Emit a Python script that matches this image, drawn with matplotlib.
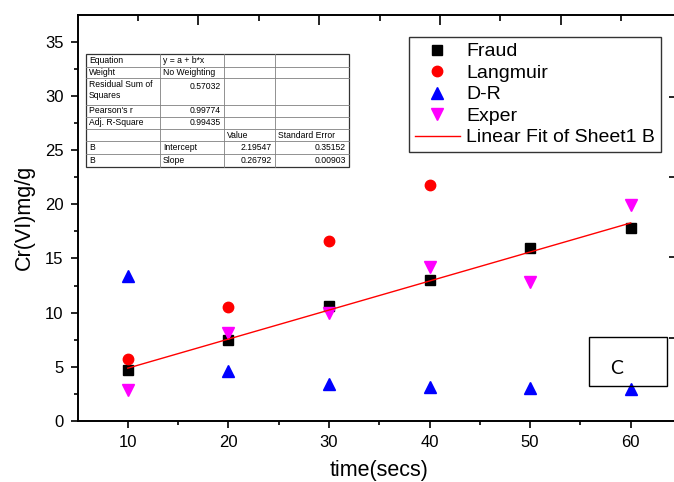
import matplotlib
matplotlib.use("Agg")
import matplotlib.pyplot as plt
from matplotlib.lines import Line2D
from matplotlib.patches import Rectangle
import numpy as np

plt.rcParams['font.family'] = ['Liberation Sans', 'DejaVu Sans']

# ---------------- data ----------------
time_fraud = [10, 20, 30, 40, 50, 60]
fraud = [4.7, 7.45, 10.6, 13.0, 16.0, 17.85]
time_lang = [10, 20, 30, 40]
langmuir = [5.7, 10.5, 16.6, 21.8]
time_dr = [10, 20, 30, 40, 50, 60]
dr = [13.4, 4.6, 3.4, 3.1, 3.0, 2.95]
time_exper = [10, 20, 30, 40, 50, 60]
exper = [2.9, 8.1, 9.95, 14.2, 12.8, 19.95]
fit_intercept = 2.19547
fit_slope = 0.26792
fit_range = [10, 60]

table_rows = [
    ["Equation", "y = a + b*x", "", ""],
    ["Weight", "No Weighting", "", ""],
    ["Residual Sum of\nSquares", "0.57032", "", ""],
    ["Pearson's r", "0.99774", "", ""],
    ["Adj. R-Square", "0.99435", "", ""],
    ["", "", "Value", "Standard Error"],
    ["B", "Intercept", "2.19547", "0.35152"],
    ["B", "Slope", "0.26792", "0.00903"],
]
x_ticks = [10, 20, 30, 40, 50, 60]
y_ticks = [0, 5, 10, 15, 20, 25, 30, 35]

W, H = 674, 482
fig = plt.figure(figsize=(W / 100, H / 100), dpi=100)

def fx(px):
    return px / W

def fy(py):
    return 1 - py / H

L, R, T, B = 77.5, 681, 14.5, 421
ax = fig.add_axes([fx(L), fy(B), fx(R) - fx(L), fy(T) - fy(B)])
ax.set_xlim(5, 65)
ax.set_ylim(0, 37.5)

ax.plot(time_fraud, fraud, 's', color='black', ms=6.5, label='Fraud', zorder=3)
ax.plot(time_lang, langmuir, 'o', color='#ff0000', ms=7.5, label='Langmuir', zorder=3)
ax.plot(time_dr, dr, '^', color='#0000ff', ms=8, label='D-R', zorder=3)
ax.plot(time_exper, exper, 'v', color='#ff00ff', ms=8, label='Exper', zorder=3)
xf = np.array(fit_range, dtype=float)
ax.plot(xf, fit_intercept + fit_slope * xf, '-', color='#ff0000', lw=1.0,
        label='Linear Fit of Sheet1 B', zorder=4)

ax.set_xticks(x_ticks)
ax.set_xticks([15, 25, 35, 45, 55], minor=True)
ax.set_yticks(y_ticks)
ax.set_yticks(np.arange(2.5, 37.5, 5), minor=True)
ax.tick_params(which='major', direction='out', length=5, width=1.2, labelsize=12,
               top=False, right=False, pad=5)
ax.tick_params(which='minor', direction='out', length=3, width=1.2, top=False, right=False)
for s in ax.spines.values():
    s.set_linewidth(1.4)
ax.spines['right'].set_visible(False)

ax.set_xlabel('time(secs)', fontsize=15.5, labelpad=7)
ax.set_ylabel('Cr(VI)mg/g', fontsize=15.5, labelpad=7)

# overlay layer: top and right ticks of a second layer
ax2 = fig.add_axes(ax.get_position(), frameon=False)
ax2.set_xlim(L, R)
ax2.set_ylim(B, T)
ax2.xaxis.tick_top()
ax2.yaxis.tick_right()
top_major = [198, 319, 440, 561]
top_minor = [138, 259, 380, 500, 621]
right_major = [97, 177, 257, 338]
ax2.set_xticks(top_major)
ax2.set_xticks(top_minor, minor=True)
ax2.set_yticks(right_major)
ax2.tick_params(which='major', direction='in', length=7, width=1.2,
                labeltop=False, labelright=False, labelbottom=False, labelleft=False)
ax2.tick_params(which='minor', direction='in', length=4, width=1.2)
ax2.tick_params(axis='y', which='major', length=9)
ax2.patch.set_alpha(0)
ax2.set_zorder(0.5)

# legend
leg = ax.legend(loc='upper left', bbox_to_anchor=(fx(409), fy(37)),
                bbox_transform=fig.transFigure, fontsize=14, frameon=True,
                fancybox=False, edgecolor='black', borderpad=0.3,
                labelspacing=0.2, handlelength=2.3, handletextpad=0.35,
                borderaxespad=0)
leg.get_frame().set_linewidth(1.0)

# statistics table
col_x = [86, 160, 224, 275, 349]
row_y = [54.3, 66.7, 78.3, 105, 116.5, 129, 141, 153.5, 167.3]
grey = '#808080'
for cx in col_x[1:-1]:
    fig.add_artist(Line2D([fx(cx), fx(cx)], [fy(row_y[0]), fy(row_y[-1])],
                          color=grey, lw=0.6))
for ry in row_y[1:-1]:
    fig.add_artist(Line2D([fx(col_x[0]), fx(col_x[-1])], [fy(ry), fy(ry)],
                          color=grey, lw=0.6))
fig.add_artist(Rectangle((fx(col_x[0]), fy(row_y[-1])), fx(col_x[-1]) - fx(col_x[0]),
                         fy(row_y[0]) - fy(row_y[-1]), fill=False,
                         edgecolor='#333333', lw=0.9, transform=fig.transFigure))
tfs = 6.2
for i, row in enumerate(table_rows):
    yc = (row_y[i] + row_y[i + 1]) / 2
    for j, txt in enumerate(row):
        if not txt:
            continue
        numeric = txt[0].isdigit()
        if i == 2 and j == 0:
            fig.text(fx(col_x[0] + 3), fy(row_y[i] + 2), txt, fontsize=tfs,
                     ha='left', va='top', linespacing=1.2)
            continue
        if i == 2 and j == 1:
            fig.text(fx(col_x[j + 1] - 3), fy(row_y[i] + 8), txt, fontsize=tfs,
                     ha='right', va='center')
            continue
        if numeric:
            fig.text(fx(col_x[j + 1] - 3), fy(yc), txt, fontsize=tfs, ha='right', va='center')
        else:
            fig.text(fx(col_x[j] + 3), fy(yc), txt, fontsize=tfs, ha='left', va='center')

# "C" label box
fig.add_artist(Rectangle((fx(589), fy(386)), fx(667) - fx(589), fy(337) - fy(386),
                         fill=False, edgecolor='black', lw=1.0, transform=fig.transFigure))
fig.text(fx(617), fy(369), 'C', fontsize=14, family=['Lato', 'DejaVu Sans'],
         ha='center', va='center')

fig.savefig('out.png', dpi=100)
